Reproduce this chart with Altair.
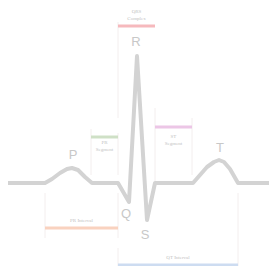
import altair as alt
import pandas as pd

# ECG trace (time position, amplitude)
ecg_t = [8, 45, 52, 60, 67, 72, 78, 85, 92, 118, 129, 137, 147, 155, 193, 200, 207, 214, 219, 224, 230, 238, 277]
ecg_a = [0, 0, 4, 10, 14, 15, 13, 6, 0, 0, -19, 127, -37, 0, 0, 8, 16, 21, 23, 21, 14, 0, 0]

# wave labels
wave_labels = ["P", "Q", "R", "S", "T"]
wave_t = [73, 126, 136, 145, 220]
wave_a = [28, -31, 141, -52, 35]

# brackets: name, start, end, bar level, tick extents
br_names = ["QRS Complex", "PR Segment", "ST Segment", "PR Interval", "QT Interval"]
br_start = [118, 91, 155, 45, 118]
br_end = [155, 118, 192, 118, 238]
br_level = [157, 46, 56, -45, -82]
br_colors = ["#f6b9bd", "#cfe0c6", "#ecc6e6", "#f9d2bf", "#cddcf1"]
br_text1 = ["QRS", "PR", "ST", "PR Interval", "QT Interval"]
br_text2 = ["Complex", "Segment", "Segment", "", ""]
br_text_a = [172, 41, 47, -37, -74]

# vertical guide lines (t, a_top, a_bottom)
vl_t = [118, 155, 91, 118, 192, 45, 118, 238, 118]
vl_top = [161, 75, 54, 50, 65, -10, -10, -10, -65]
vl_bot = [65, 0, 8, 8, 8, -55, -55, -89, -89]

xs = alt.Scale(domain=[8, 269], nice=False, zero=False)
ys = alt.Scale(domain=[-83, 175], nice=False, zero=False)
X = lambda f: alt.X(f, scale=xs, axis=None)
Y = lambda f: alt.Y(f, scale=ys, axis=None)

ecg = pd.DataFrame({"t": ecg_t, "a": ecg_a})
labels = pd.DataFrame({"lab": wave_labels, "t": wave_t, "a": wave_a})
br = pd.DataFrame({"name": br_names, "s": br_start, "e": br_end, "lvl": br_level,
                   "c": br_colors, "t1": br_text1, "t2": br_text2, "ta": br_text_a})
br["mid"] = (br["s"] + br["e"]) / 2
br["ta2"] = br["ta"] - 7
vl = pd.DataFrame({"t": vl_t, "top": vl_top, "bot": vl_bot})

guides = alt.Chart(vl).mark_rule(color="#f3eeee", strokeWidth=1).encode(
    x=X("t:Q"), y=Y("top:Q"), y2="bot:Q")

bars = alt.Chart(br).mark_rule(strokeWidth=3).encode(
    x=X("s:Q"), x2="e:Q", y=Y("lvl:Q"), color=alt.Color("c:N", scale=None))

t1 = alt.Chart(br).mark_text(font="Liberation Serif", fontSize=5, color="#c2c2c2").encode(
    x=X("mid:Q"), y=Y("ta:Q"), text="t1:N")
t2 = alt.Chart(br).mark_text(font="Liberation Serif", fontSize=5, color="#c2c2c2").encode(
    x=X("mid:Q"), y=Y("ta2:Q"), text="t2:N")

line = alt.Chart(ecg).mark_line(color="#d3d3d3", strokeWidth=4, strokeJoin="round", strokeCap="round").encode(
    x=X("t:Q"), y=Y("a:Q"), order="t:Q")

wl = alt.Chart(labels).mark_text(font="Liberation Sans", fontSize=13, color="#c8c8c8").encode(
    x=X("t:Q"), y=Y("a:Q"), text="lab:N")

chart = alt.layer(guides, bars, t1, t2, line, wl).properties(
    width=261, height=258, padding=0, autosize="none"
).configure_view(stroke=None)

chart.save("out.html", embed_options={"renderer": "svg", "actions": False})
